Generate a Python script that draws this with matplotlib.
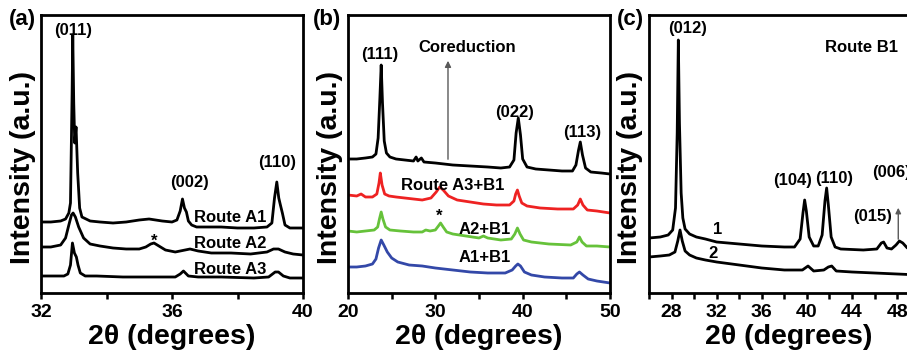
import matplotlib
matplotlib.use("Agg")
import matplotlib.pyplot as plt

plt.rcParams['font.family'] = ['Liberation Sans', 'DejaVu Sans']
plt.rcParams['font.weight'] = 'bold'

# ---- panel (a): Route A1 / A2 / A3 ----
a1_x = [32.0, 32.3, 32.6, 32.75, 32.85, 32.9, 32.95, 32.97, 33.0, 33.03, 33.07, 33.12, 33.18, 33.25,
        33.5, 33.8, 34.2, 34.6, 35.0, 35.3, 35.7, 36.0, 36.15, 36.25, 36.32, 36.38, 36.44, 36.5,
        36.6, 36.75, 37.0, 37.5, 38.0, 38.5, 38.9, 39.05, 39.13, 39.2, 39.26, 39.31, 39.37, 39.45,
        39.6, 40.0]
a1_h = [71, 71, 72, 74, 80, 90, 200, 258, 190, 150, 166, 120, 85, 76,
        72, 71, 70, 71, 73, 74, 72, 71, 73, 82, 94, 85, 81, 72,
        68, 66, 66, 66, 65, 65, 66, 70, 95, 111, 95, 88, 80, 68,
        65, 65]
a2_x = [32.0, 32.3, 32.6, 32.75, 32.85, 32.93, 32.98, 33.05, 33.15, 33.3, 33.5, 33.8, 34.2, 34.6,
        35.0, 35.2, 35.35, 35.45, 35.6, 35.8, 36.1, 36.4, 36.55, 36.8, 37.2, 37.8, 38.4, 38.9,
        39.1, 39.25, 39.45, 39.7, 40.0]
a2_h = [46, 46, 48, 55, 68, 78, 80, 76, 66, 55, 49, 47, 45, 44,
        44, 46, 49, 50, 47, 43, 41, 43, 44, 42, 40, 40, 39, 41,
        44, 44, 41, 39, 38]
a3_x = [32.0, 32.4, 32.7, 32.82, 32.9, 32.96, 33.02, 33.08, 33.13, 33.2, 33.35, 33.7, 34.5, 35.5,
        36.1, 36.25, 36.35, 36.5, 36.8, 37.5, 38.5, 38.95, 39.15, 39.25, 39.4, 39.6, 40.0]
a3_h = [17, 17, 17, 19, 28, 50, 40, 36, 28, 20, 17, 17, 16, 16,
        16, 19, 22, 17, 16, 16, 15, 16, 21, 21, 17, 15, 15]

# ---- panel (b): coreduction + A+B1 routes ----
bk_x = [20, 21, 22, 22.8, 23.2, 23.45, 23.65, 23.8, 23.95, 24.15, 24.4, 24.8, 25.5, 26.5, 27.5,
        27.8, 28.0, 28.4, 28.7, 30, 32, 34, 36, 37.5, 38.5, 39.0, 39.25, 39.5, 39.75, 40.0, 40.5,
        41.5, 43, 44.5, 45.7, 46.1, 46.4, 46.6, 46.85, 47.2, 47.8, 49, 50]
bk_h = [134, 134, 135, 136, 139, 155, 195, 228, 190, 152, 140, 136, 134, 133, 132,
        136, 132, 135, 131, 130, 128, 127, 126, 125, 126, 133, 160, 175, 158, 134, 126,
        124, 123, 122, 122, 128, 143, 151, 138, 125, 121, 120, 119]
rd_x = [20, 21, 21.5, 22, 22.8, 23.3, 23.55, 23.7, 23.9, 24.2, 24.7, 25.5, 26.5, 27.5, 28.5,
        29.5, 30.1, 30.5, 30.9, 31.5, 32.5, 34, 35.5, 37, 38.5, 39.0, 39.2, 39.4, 39.6, 39.9,
        40.5, 42, 44, 45.8, 46.3, 46.6, 46.9, 47.4, 48.5, 50]
rd_h = [98, 97, 99, 96, 96, 99, 110, 120, 108, 99, 97, 96, 95, 94, 93,
        95, 101, 106, 103, 97, 93, 91, 89, 88, 88, 92, 99, 103, 97, 90,
        87, 85, 84, 84, 88, 94, 88, 83, 82, 80]
gn_x = [20, 21, 22, 23, 23.4, 23.6, 23.8, 24.0, 24.3, 24.8, 26, 27.5, 28.5, 28.9, 29.4, 30.0,
        30.35, 30.6, 30.9, 31.3, 32, 33.5, 35, 35.5, 36, 37.5, 38.7, 39.1, 39.4, 39.7, 40.1, 41,
        43, 45.5, 46.2, 46.5, 46.8, 47.3, 48.5, 50]
gn_h = [62, 61, 62, 63, 66, 74, 81, 74, 66, 63, 62, 61, 61, 63, 62, 63,
        67, 70, 66, 61, 59, 57, 55, 57, 55, 53, 54, 59, 65, 59, 53, 51,
        49, 48, 51, 56, 51, 47, 47, 46]
bl_x = [20, 21, 22, 22.8, 23.2, 23.5, 23.8, 24.1, 24.5, 25, 25.7, 27, 28.5, 30, 32, 34, 36, 38,
        38.8, 39.2, 39.45, 39.75, 40.2, 41, 42.5, 44.5, 45.8, 46.2, 46.5, 46.9, 47.5, 48.5, 50]
bl_h = [26, 26, 27, 29, 34, 45, 53, 48, 41, 35, 31, 28, 27, 25, 23, 21, 20, 20,
        23, 27, 29, 27, 21, 18, 16, 15, 15, 19, 21, 18, 14, 12, 10]

# ---- panel (c): Route B1, samples 1 and 2 ----
c1_x = [26, 27, 27.7, 28.1, 28.35, 28.5, 28.6, 28.7, 28.85, 29.0, 29.2, 29.6, 30.2, 31, 32, 34,
        36, 38, 38.9, 39.4, 39.65, 39.8, 39.95, 40.2, 40.6, 41.0, 41.35, 41.6, 41.75, 41.9, 42.15,
        42.5, 43, 45, 46.2, 46.6, 46.8, 47.1, 47.5, 47.9, 48.2, 48.5, 48.9, 50]
c1_h = [55, 56, 58, 63, 85, 160, 253, 170, 100, 75, 64, 59, 56, 54, 51, 49,
        47, 46, 46, 54, 80, 93, 82, 56, 47, 47, 58, 92, 105, 88, 56,
        46, 44, 43, 44, 50, 51, 45, 44, 48, 52, 50, 45, 43]
c2_x = [26, 27, 27.8, 28.3, 28.55, 28.75, 28.95, 29.2, 29.6, 30.2, 31, 32, 34, 36, 38, 39.6,
        40.1, 40.6, 41.5, 41.9, 42.2, 42.6, 44, 46, 48, 50]
c2_h = [36, 37, 38, 41, 52, 63, 52, 42, 38, 35, 33, 31, 28, 25, 23, 23,
        27, 22, 23, 26, 27, 22, 21, 20, 19, 18]

W, H = 907, 351
fig = plt.figure(figsize=(W / 100, H / 100), dpi=100)


def make_axes(left_px, width_px, xlim, major, minor, lab_x=0.5):
    ax = fig.add_axes([left_px / W, (H - 293) / H, width_px / W, 278 / H])
    ax.set_xlim(*xlim)
    ax.set_ylim(0, 278)
    ax.set_yticks([])
    ax.set_xticks(major)
    ax.set_xticks(minor, minor=True)
    ax.tick_params(axis='x', which='major', direction='out', length=4, width=1.8,
                   labelsize=14, pad=4)
    ax.tick_params(axis='x', which='minor', direction='out', length=4, width=1.8)
    for lab in ax.get_xticklabels():
        lab.set_fontweight('bold')
    for s in ax.spines.values():
        s.set_linewidth(2.0)
    ax.set_xlabel('2θ (degrees)', fontsize=20.5, fontweight='bold')
    ax.xaxis.set_label_coords(lab_x, -0.16)
    ax.xaxis.label.set_va('center')
    ax.set_ylabel('Intensity (a.u.)', fontsize=20.5, fontweight='bold', va='center')
    ax.yaxis.set_label_coords(-0.069, 0.45)
    return ax


lw = 2.0
fs = 12

# (a)
ax = make_axes(41, 262, (32, 40), [32, 36, 40], [34, 38])
ax.plot(a1_x, a1_h, color='k', lw=lw)
ax.plot(a2_x, a2_h, color='k', lw=lw)
ax.plot(a3_x, a3_h, color='k', lw=lw)
ax.text(32.98, 263, '(011)', ha='center', va='center', fontsize=fs, fontweight='bold')
ax.text(36.52, 111, '(002)', ha='center', va='center', fontsize=fs, fontweight='bold')
ax.text(39.2, 131, '(110)', ha='center', va='center', fontsize=fs, fontweight='bold')
ax.text(37.77, 75, 'Route A1', ha='center', va='center', fontsize=fs, fontweight='bold')
ax.text(37.77, 50, 'Route A2', ha='center', va='center', fontsize=fs, fontweight='bold')
ax.text(37.77, 23, 'Route A3', ha='center', va='center', fontsize=fs, fontweight='bold')
ax.text(35.45, 52, '*', ha='center', va='center', fontsize=fs, fontweight='bold')

# (b)
ax = make_axes(348, 262, (20, 50), [20, 30, 40, 50], [25, 35, 45])
ax.plot(bk_x, bk_h, color='k', lw=lw)
ax.plot(rd_x, rd_h, color='#ee2222', lw=lw)
ax.plot(gn_x, gn_h, color='#66c23a', lw=lw)
ax.plot(bl_x, bl_h, color='#3348a8', lw=lw)
ax.annotate('', xy=(31.45, 235), xytext=(31.45, 131),
            arrowprops=dict(arrowstyle='-|>', color='0.35', lw=1, mutation_scale=9))
ax.text(23.67, 238, '(111)', ha='center', va='center', fontsize=fs, fontweight='bold')
ax.text(33.6, 245, 'Coreduction', ha='center', va='center', fontsize=fs, fontweight='bold')
ax.text(39.1, 181, '(022)', ha='center', va='center', fontsize=fs, fontweight='bold')
ax.text(46.8, 160, '(113)', ha='center', va='center', fontsize=fs, fontweight='bold')
ax.text(32.0, 108, 'Route A3+B1', ha='center', va='center', fontsize=fs, fontweight='bold')
ax.text(30.4, 77, '*', ha='center', va='center', fontsize=fs, fontweight='bold')
ax.text(35.7, 63, 'A2+B1', ha='center', va='center', fontsize=fs, fontweight='bold')
ax.text(35.7, 35, 'A1+B1', ha='center', va='center', fontsize=fs, fontweight='bold')

# (c) - runs past the right edge of the figure
ax = make_axes(649, 270.7, (26, 50), [28, 32, 36, 40, 44, 48],
               [26, 30, 34, 38, 42, 46, 50], lab_x=0.517)
ax.plot(c1_x, c1_h, color='k', lw=lw)
ax.plot(c2_x, c2_h, color='k', lw=lw)
ax.annotate('', xy=(48.1, 88), xytext=(48.1, 51),
            arrowprops=dict(arrowstyle='-|>', color='0.35', lw=1, mutation_scale=8))
ax.text(29.4, 265, '(012)', ha='center', va='center', fontsize=fs, fontweight='bold')
ax.text(44.85, 246, 'Route B1', ha='center', va='center', fontsize=fs, fontweight='bold')
ax.text(38.7, 113, '(104)', ha='center', va='center', fontsize=fs, fontweight='bold')
ax.text(42.45, 115, '(110)', ha='center', va='center', fontsize=fs, fontweight='bold')
ax.text(45.8, 120, '(006)', ha='left', va='center', fontsize=fs, fontweight='bold')
ax.text(45.8, 76, '(015)', ha='center', va='center', fontsize=fs, fontweight='bold')
ax.text(32.1, 63, '1', ha='center', va='center', fontsize=fs, fontweight='bold')
ax.text(31.7, 40, '2', ha='center', va='center', fontsize=fs, fontweight='bold')

# panel letters
for px, lab in [(22, '(a)'), (327, '(b)'), (630, '(c)')]:
    fig.text(px / W, 1 - 20 / H, lab, ha='center', va='center', fontsize=16, fontweight='bold')

fig.savefig('out.png', dpi=100)
